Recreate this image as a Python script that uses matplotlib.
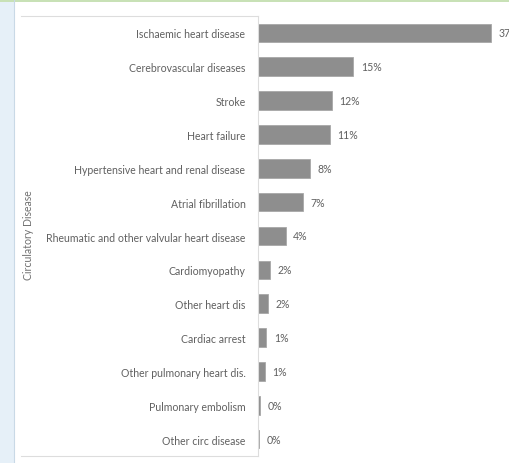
import matplotlib.pyplot as plt
from matplotlib.patches import Rectangle
from matplotlib.lines import Line2D

causes = [
    "Ischaemic heart disease",
    "Cerebrovascular diseases",
    "Stroke",
    "Heart failure",
    "Hypertensive heart and renal disease",
    "Atrial fibrillation",
    "Rheumatic and other valvular heart disease",
    "Cardiomyopathy",
    "Other heart dis",
    "Cardiac arrest",
    "Other pulmonary heart dis.",
    "Pulmonary embolism",
    "Other circ disease",
]
shares = [37.0, 15.1, 11.7, 11.4, 8.2, 7.1, 4.4, 1.9, 1.6, 1.3, 1.1, 0.3, 0.15]
shown = ["37%", "15%", "12%", "11%", "8%", "7%", "4%", "2%", "2%", "1%", "1%", "0%", "0%"]
group = "Circulatory Disease"

W, H = 510, 464
fig = plt.figure(figsize=(W / 100, H / 100), dpi=100)
fig.patch.set_facecolor("white")

# side strip and top strip of the page around the chart
fig.patches.append(Rectangle((0, 0), 14 / W, 1, transform=fig.transFigure,
                             facecolor="#e6f0f8", edgecolor="none", zorder=0))
fig.lines.append(Line2D([14 / W, 14 / W], [0, 1], transform=fig.transFigure,
                        color="#c9d9e6", lw=0.8))
fig.patches.append(Rectangle((0, 1 - 3 / H), 1, 3 / H, transform=fig.transFigure,
                             facecolor="#c8e1b6", edgecolor="none", zorder=0))

ax_left, ax_top, ax_bot = 258, 17, 457
ax = fig.add_axes([ax_left / W, 1 - ax_bot / H, 1 - ax_left / W, (ax_bot - ax_top) / H])

y = range(len(causes))
ax.barh(y, shares, height=0.55, color="#8e8e8e", edgecolor="#a8a8a8", linewidth=0.6)
for i, (v, s) in enumerate(zip(shares, shown)):
    ax.text(v + 1.2, i, s, va="center", ha="left", fontsize=7.6,
            color="#606060", family="Lato", clip_on=False)

ax.set_xlim(0, 40)
ax.set_ylim(len(causes) - 0.5, -0.5)
ax.set_yticks(list(y))
ax.set_yticklabels(causes, fontsize=7.6, color="#606060", family="Lato")
ax.tick_params(axis="y", length=0, pad=9)
ax.set_xticks([])
for side in ["top", "right", "bottom"]:
    ax.spines[side].set_visible(False)
ax.spines["left"].set_color("#dddddd")
ax.spines["left"].set_linewidth(0.8)

# frame lines around the label area
x0 = 21 / W
x1 = ax_left / W
for yy in [1 - ax_top / H, 1 - ax_bot / H]:
    fig.lines.append(Line2D([x0, x1], [yy, yy], transform=fig.transFigure,
                            color="#dddddd", lw=0.8))

fig.text(29 / W, 1 - 235 / H, group, rotation=90, ha="center", va="center",
         fontsize=7.6, color="#707070", family="Lato")

fig.savefig("out.png", dpi=100)
